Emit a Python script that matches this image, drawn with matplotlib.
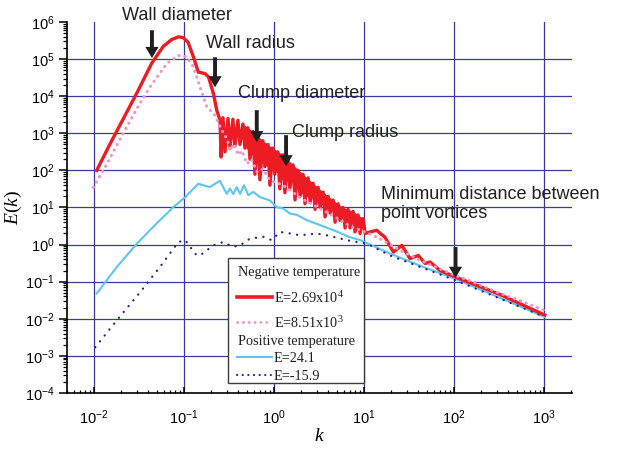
import numpy as np
import matplotlib
matplotlib.use("Agg")
import matplotlib.pyplot as plt
from matplotlib.ticker import LogLocator, NullFormatter, LogFormatterSciNotation
from matplotlib.patches import Rectangle

# ---- data ----
# E = 2.69x10^4 (negative temperature)
red_k = [0.0107, 0.0151, 0.0212, 0.0299, 0.0438, 0.0589, 0.0729, 0.0865, 0.098, 0.111,
         0.127, 0.144, 0.171, 0.187, 0.212, 0.231, 0.251, 0.258,
         0.271, 0.285, 0.308, 0.324, 0.349, 0.367, 0.397, 0.418, 0.451, 0.475,
         0.513, 0.540, 0.583, 0.613, 0.662, 0.697, 0.752, 0.792, 0.855, 0.900,
         0.972, 1.02, 1.10, 1.16, 1.26, 1.32, 1.43, 1.50, 1.63, 1.71,
         1.85, 1.95, 2.10, 2.21, 2.39, 2.52, 2.72, 2.86, 3.09, 3.25,
         3.51, 3.69, 3.99, 4.20, 4.53, 4.77, 5.15, 5.42, 5.85, 6.16,
         6.65, 7.00, 7.56, 7.95, 8.59, 9.04, 9.76, 10.3,
         11.7, 13.8, 17.1, 21.2, 26.3, 32.4, 40.1, 47.6, 54.1, 69.9, 103, 325, 1020]
red_E = [100, 525, 2500, 12200, 78000, 222000, 336000, 398000, 380000, 282000,
         115000, 44700, 40700, 33000, 11700, 4170, 2240, 230,
         2630, 316, 2510, 398, 2400, 447, 2240, 501, 1780, 398,
         1410, 200, 1120, 79, 794, 56, 631, 126, 501, 40,
         398, 79, 316, 32, 263, 25, 200, 32, 141, 16,
         100, 20, 79, 12.6, 63, 14, 45, 8.9, 35, 10,
         26, 5.6, 20, 7.1, 15.8, 4.0, 12.6, 4.5, 10, 2.8,
         8.9, 2.8, 7.9, 2.2, 6.3, 2.0, 5.0, 2.0,
         2.19, 2.43, 1.58, 0.63, 0.95, 0.42, 0.51, 0.31, 0.34, 0.20, 0.135, 0.045, 0.0126]

# solid part of the red band (dense oscillations)
band_k = [0.451, 0.583, 0.752, 0.972, 1.26, 1.63, 2.10, 2.72, 3.51, 4.53, 5.85, 7.56, 9.76]
band_hi = [1780, 1120, 631, 398, 263, 141, 79, 45, 26, 15.8, 10, 7.9, 5.0]
band_lo = [501, 251, 158, 100, 71, 45, 22, 17.8, 12.6, 7.9, 5.6, 4.0, 2.8]

# E = 8.51x10^3 (negative temperature)
pink_k = [0.0098, 0.0117, 0.0127, 0.0179, 0.0299, 0.0419, 0.0643, 0.0865, 0.107, 0.127,
          0.150, 0.179, 0.220, 0.263, 0.300, 0.330, 0.360, 0.400, 0.440, 0.500,
          0.560, 0.650, 0.750, 0.900, 1.26, 2.0, 4.0, 7.0, 10.0, 12.6,
          16.0, 25.0, 40.0, 100, 163, 300, 600, 1000]
pink_E = [34.7, 74, 100, 479, 4680, 17800, 75900, 126000, 115000, 61700,
          17800, 5130, 3090, 1200, 700, 350, 520, 260, 340, 150,
          200, 90, 110, 54, 40, 17.8, 7.1, 3.16, 2.24, 1.78,
          1.32, 0.71, 0.40, 0.151, 0.098, 0.052, 0.028, 0.017]

# E = 24.1 (positive temperature)
blue_k = [0.0107, 0.0179, 0.030, 0.0495, 0.076, 0.103, 0.144, 0.193, 0.250, 0.298,
          0.324, 0.352, 0.385, 0.418, 0.464, 0.518, 0.588, 0.697, 0.80, 0.90,
          1.07, 1.25, 1.50, 1.8, 2.30, 4.56, 7.0, 9.04, 19.4, 45.5, 103, 1020]
blue_E = [0.048, 0.25, 1.07, 3.7, 10.2, 19.0, 43.6, 35.5, 52.5, 23.4,
          32.4, 22.9, 35.5, 23.4, 39.8, 21.4, 26.3, 19.0, 17.0, 15.5,
          10.2, 9.5, 6.9, 6.3, 4.6, 2.45, 1.58, 1.32, 0.575, 0.25, 0.12, 0.0112]

# E = -15.9 (positive temperature)
navy_k = [0.0103, 0.0179, 0.0325, 0.054, 0.0865, 0.103, 0.117, 0.138, 0.157, 0.211,
          0.272, 0.349, 0.418, 0.54, 0.76, 0.94, 1.17, 1.50, 1.95, 2.97,
          3.85, 6.44, 8.3, 10.7, 19.4, 103, 1020]
navy_E = [0.0017, 0.0091, 0.052, 0.25, 1.17, 1.32, 0.87, 0.51, 0.55, 0.95,
          1.17, 0.87, 0.95, 1.45, 1.62, 1.32, 2.19, 2.0, 1.78, 2.0,
          1.78, 1.32, 1.17, 1.07, 0.51, 0.11, 0.0112]

# annotated scales: k position, arrow top, arrow tip
arrow_k = [0.044, 0.221, 0.643, 1.36, 104]
arrow_top = [6.0e5, 1.12e5, 4.2e3, 890, 0.86]
arrow_tip = [1.07e5, 1.74e4, 575, 129, 0.127]

legend_labels = ["E=2.69x10$^4$", "E=8.51x10$^3$", "E=24.1", "E=-15.9"]

# ---- style ----
plt.rcParams['font.family'] = ['Liberation Sans', 'DejaVu Sans']
plt.rcParams['mathtext.fontset'] = 'custom'
plt.rcParams['mathtext.rm'] = 'Liberation Serif'
plt.rcParams['mathtext.it'] = 'Liberation Serif:italic'

red_c = '#ed1c24'
pink_c = '#f395c5'
blue_c = '#5cc6f2'
navy_c = '#22227e'
grid_c = '#3a3aa0'

fig = plt.figure(figsize=(6.17, 4.53), dpi=100)
ax = fig.add_axes([0.1081, 0.1325, 0.8185, 0.8189])
ax.set_xscale('log')
ax.set_yscale('log')
ax.set_xlim(10**-2.304, 10**3.308)
ax.set_ylim(1e-4, 1e6)

# grid (no line on the top edge)
for p in range(-2, 4):
    ax.axvline(10.0**p, color=grid_c, lw=0.9, zorder=0.5)
for p in range(-3, 6):
    ax.axhline(10.0**p, color=grid_c, lw=0.9, zorder=0.5)

ax.plot(blue_k, blue_E, '-', color=blue_c, lw=1.5, zorder=2)
ax.plot(navy_k, navy_E, color=navy_c, lw=1.6, ls=(0, (0.1, 3.3)),
        dash_capstyle='round', zorder=2.1)
ax.fill_between(band_k, band_lo, band_hi, color=red_c, lw=0, zorder=2.9)
ax.plot(red_k, red_E, '-', color=red_c, lw=2.4, zorder=3)
ax.plot(pink_k, pink_E, color=pink_c, lw=2.2, ls=(0, (0.1, 1.9)),
        dash_capstyle='round', zorder=3.1)

# spines and ticks
for s in ['top', 'right']:
    ax.spines[s].set_visible(False)
for s in ['left', 'bottom']:
    ax.spines[s].set_linewidth(1.2)
ax.xaxis.set_major_locator(LogLocator(base=10, numticks=20))
ax.yaxis.set_major_locator(LogLocator(base=10, numticks=20))
ax.xaxis.set_minor_locator(LogLocator(base=10, subs=np.arange(2, 10), numticks=50))
ax.yaxis.set_minor_locator(LogLocator(base=10, subs=np.arange(2, 10), numticks=50))
ax.xaxis.set_minor_formatter(NullFormatter())
ax.yaxis.set_minor_formatter(NullFormatter())
ax.xaxis.set_major_formatter(LogFormatterSciNotation())
ax.yaxis.set_major_formatter(LogFormatterSciNotation())
ax.tick_params(axis='x', which='major', direction='in', length=4, width=1.1, pad=11, labelsize=10.5)
ax.tick_params(axis='x', which='minor', direction='in', length=2.5, width=0.9)
ax.tick_params(axis='y', which='major', direction='out', length=5.5, width=1.1, pad=3, labelsize=10.5)
ax.tick_params(axis='y', which='minor', direction='out', length=3, width=0.9)

ax.set_xlabel('$k$', fontsize=14, labelpad=1)
ax.set_ylabel('$E(k)$', fontsize=14, labelpad=1)

# arrows and texts
for i in range(len(arrow_k)):
    ax.annotate('', xy=(arrow_k[i], arrow_tip[i]), xytext=(arrow_k[i], arrow_top[i]),
                arrowprops=dict(width=2.8, headwidth=9.5, headlength=8, shrink=0,
                                facecolor='#231f20', edgecolor='none'), zorder=5)

txt = dict(transform=ax.transAxes, fontsize=13, color='#231f20', va='center', ha='left')
ax.text(0.109, 1.0175, 'Wall diameter', clip_on=False, **txt)
ax.text(0.2758, 0.943, 'Wall radius', **txt)
ax.text(0.340, 0.8086, 'Clump diameter', **txt)
ax.text(0.4455, 0.702, 'Clump radius', **txt)
ax.text(0.6216, 0.509, 'Minimum distance between\npoint vortices', linespacing=1.15, **txt)

# legend drawn by hand inside a white box
ax.add_patch(Rectangle((0.319, 0.026), 0.270, 0.338, transform=ax.transAxes,
                       facecolor='white', edgecolor='#3c3c3c', lw=1.0, zorder=6))
lt = dict(transform=ax.transAxes, fontsize=10.3, family='Liberation Serif',
          va='center_baseline', ha='left', zorder=7, color='#231f20')
ax.text(0.340, 0.330, 'Negative temperature', **lt)
ax.text(0.340, 0.143, 'Positive temperature', **lt)
leg_y = [0.2596, 0.192, 0.0962, 0.0485]
leg_style = [dict(color=red_c, lw=2.6, ls='-'),
             dict(color=pink_c, lw=2.0, ls=(0, (0.1, 2.0)), dash_capstyle='round'),
             dict(color=blue_c, lw=1.5, ls='-'),
             dict(color=navy_c, lw=1.5, ls=(0, (0.1, 2.6)), dash_capstyle='round')]
for y, st, lab in zip(leg_y, leg_style, legend_labels):
    ax.plot([0.337, 0.406], [y, y], transform=ax.transAxes, zorder=7, clip_on=False, **st)
    ax.text(0.4105, y, lab, **lt)

fig.savefig('out.png', dpi=100)
